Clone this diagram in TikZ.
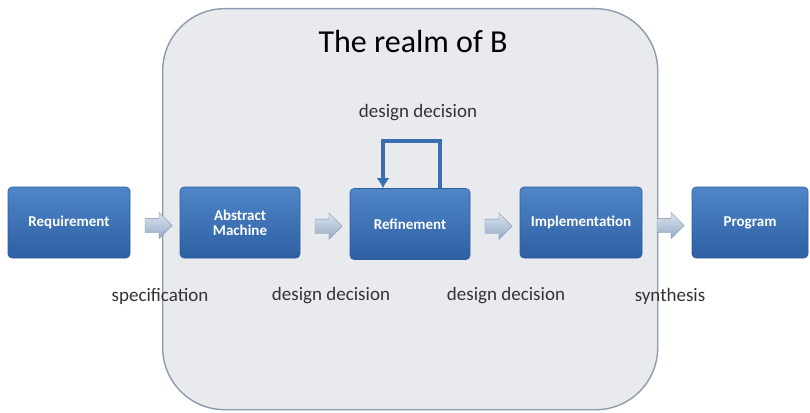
\documentclass[tikz,border=0pt]{standalone}
\usepackage{fontspec}
\setmainfont{Carlito}
\usetikzlibrary{shapes.arrows,calc,arrows.meta}
\definecolor{realmfill}{HTML}{E9EAEE}
\definecolor{realmedge}{HTML}{8E9AAE}
\definecolor{boxtop}{HTML}{4F86C8}
\definecolor{boxbot}{HTML}{2D5FA3}
\definecolor{boxedge}{HTML}{2F5E9C}
\definecolor{looparrow}{HTML}{3A6DB2}
\definecolor{flowtop}{HTML}{DCE4EE}
\definecolor{flowbot}{HTML}{93A9C6}
\definecolor{labeltext}{HTML}{333333}
\tikzset{
  stage/.style={draw=boxedge, line width=0.6pt, rounded corners=4pt,
    top color=boxtop, bottom color=boxbot,
    minimum width=120pt, minimum height=71pt, align=center,
    text=white, font=\fontsize{15}{16}\selectfont\bfseries},
  flow/.style={single arrow, single arrow head extend=6pt,
    single arrow tip angle=90, minimum height=27pt,
    inner xsep=0pt, inner ysep=7pt, draw=flowbot!85!black, line width=0.3pt,
    top color=flowtop, bottom color=flowbot},
  steplabel/.style={text=labeltext, font=\fontsize{19}{21}\selectfont},
}
\begin{document}
\begin{tikzpicture}[x=1pt,y=-1pt]
\useasboundingbox (0,0) rectangle (810,412);
% the realm of B
\node[draw=realmedge, line width=1.4pt, fill=realmfill, rounded corners=62pt,
  minimum width=495pt, minimum height=401pt, anchor=north west,
  inner sep=0pt] (realm) at (162,8) {};
\node[font=\fontsize{32}{34}\selectfont, text=black] (title) at (413,42) {The realm of B};
% development stages
\node[stage, minimum width=122pt] (req)  at (69,222.5)  {Requirement};
\node[stage] (abs)  at (240,222.5) {Abstract\\[-1pt]Machine};
\node[stage] (ref)  at (410,224)   {Refinement};
\node[stage, minimum width=122pt] (impl) at (581,222.5) {Implementation};
\node[stage, minimum width=116pt] (prog) at (750,222.5) {Program};
% flow arrows between stages
\node[flow] (f1) at ($(req.east)!0.5!(abs.west)+(0,3)$) {};
\node[flow] (f2) at ($(abs.east)!0.5!(ref.west)+(0,3)$) {};
\node[flow] (f3) at ($(ref.east)!0.5!(impl.west)+(0,3)$) {};
\node[flow] (f4) at ($(impl.east)!0.5!(prog.west)+(0,3)$) {};
% labels under the flow arrows
\node[steplabel] (l1) at (160,296) {specification};
\node[steplabel] (l2) at (331,296) {design decision};
\node[steplabel] (l3) at (506,296) {design decision};
\node[steplabel] (l4) at (670,296) {synthesis};
% refinement loop
\coordinate (loopR) at ($(ref.north)+(30,0)$);
\coordinate (loopL) at ($(ref.north)+(-27,0)$);
\draw[looparrow, line width=3.6pt, -{Latex[length=10pt,width=13pt]}]
  (loopR) -- ++(0,-47) -| (loopL);
\node[steplabel] (l0) at (418,113) {design decision};
\end{tikzpicture}
\end{document}
